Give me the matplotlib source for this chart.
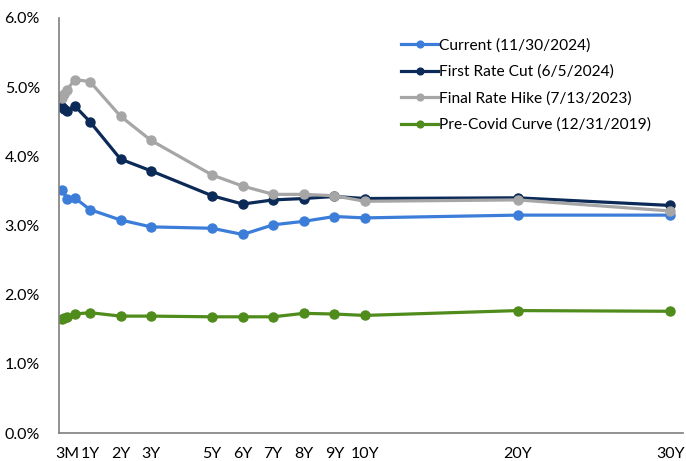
import matplotlib
matplotlib.use('Agg')
import matplotlib.pyplot as plt
import numpy as np

plt.rcParams['font.family'] = ['Lato', 'DejaVu Sans']

# maturities in years
mat_3 = [1/12, 2/12, 3/12, 6/12, 1, 2, 3, 5, 6, 7, 8, 9, 10, 20, 30]
mat_cur = [1/12, 3/12, 6/12, 1, 2, 3, 5, 6, 7, 8, 9, 10, 20, 30]

current = [3.52, 3.39, 3.40, 3.23, 3.08, 2.98, 2.96, 2.87, 3.01, 3.06, 3.13, 3.11, 3.15, 3.15]
first_cut = [4.72, 4.68, 4.66, 4.73, 4.50, 3.96, 3.79, 3.43, 3.31, 3.37, 3.39, 3.42, 3.39, 3.40, 3.29]
final_hike = [4.85, 4.90, 4.96, 5.11, 5.08, 4.58, 4.23, 3.73, 3.57, 3.45, 3.45, 3.43, 3.35, 3.37, 3.21]
pre_covid = [1.65, 1.66, 1.67, 1.72, 1.74, 1.69, 1.69, 1.68, 1.68, 1.68, 1.73, 1.72, 1.70, 1.77, 1.76]

tick_pos = [0.25, 1, 2, 3, 5, 6, 7, 8, 9, 10, 20, 30]
tick_lab = ['3M', '1Y', '2Y', '3Y', '5Y', '6Y', '7Y', '8Y', '9Y', '10Y', '20Y', '30Y']


# beyond 10Y the axis is compressed by half
def fwd(m):
    m = np.asarray(m, dtype=float)
    return np.where(m <= 10, m, 10 + (m - 10) / 2)


def inv(p):
    p = np.asarray(p, dtype=float)
    return np.where(p <= 10, p, 10 + 2 * (p - 10))


fig = plt.figure(figsize=(6.86, 4.61), dpi=100)
ax = fig.add_axes([0.0866, 0.0607, 0.9084, 0.9003])

kw = dict(lw=2.3, marker='o', ms=6.5)
ax.plot(mat_cur, current, color='#3b7dd8', label='Current (11/30/2024)', **kw)
ax.plot(mat_3, first_cut, color='#0c2a57', label='First Rate Cut (6/5/2024)', **kw)
ax.plot(mat_3, final_hike, color='#a6a6a6', label='Final Rate Hike (7/13/2023)', **kw)
ax.plot(mat_3, pre_covid, color='#4f8c1b', label='Pre-Covid Curve (12/31/2019)', **kw)

ax.set_xscale('function', functions=(fwd, inv))
ax.set_xlim(0, 30.8)
ax.set_ylim(0, 6)
ax.set_xticks(tick_pos)
ax.set_xticklabels(tick_lab)
ax.set_yticks(np.arange(0, 6.1, 1))
ax.set_yticklabels(['%.1f%%' % v for v in np.arange(0, 6.1, 1)])
ax.minorticks_off()
ax.tick_params(axis='both', length=0, labelsize=11.5, colors='#000000')
ax.tick_params(axis='x', pad=10)
ax.tick_params(axis='y', pad=14)

for s in ['top', 'right']:
    ax.spines[s].set_visible(False)
ax.spines['left'].set_color('#7f7f7f')
ax.spines['bottom'].set_color('#7f7f7f')
ax.spines['left'].set_linewidth(1.2)
ax.spines['bottom'].set_linewidth(1.2)

ax.legend(loc='upper right', bbox_to_anchor=(0.972, 0.985), frameon=False,
          fontsize=11.2, handlelength=2.4, labelspacing=0.78, handletextpad=0.05,
          markerscale=0.75)

fig.savefig('out.png', dpi=100)
